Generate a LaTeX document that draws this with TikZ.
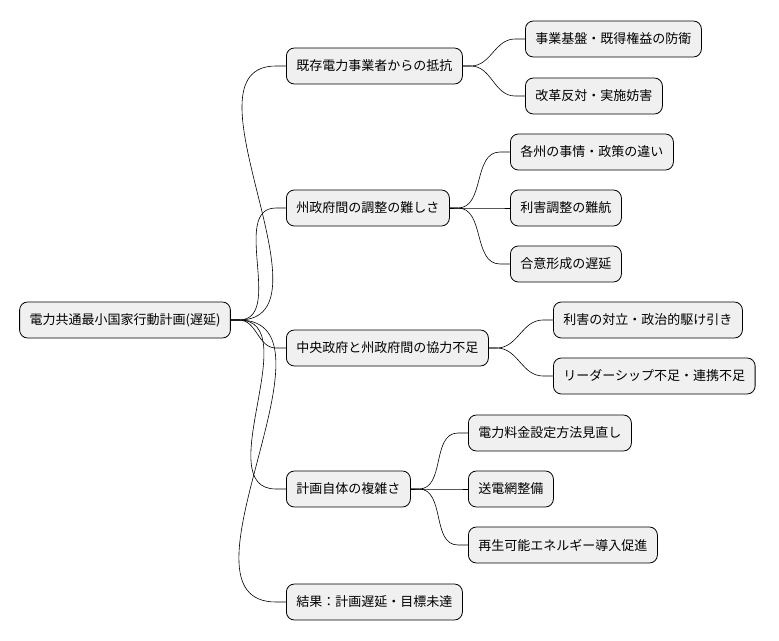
\documentclass[tikz,border=0pt]{standalone}
\usepackage{fontspec}
\setmainfont{Noto Sans CJK JP}
\begin{document}
\begin{tikzpicture}[x=1pt,y=-1pt,
  n/.style={draw=black,fill=gray!12,rounded corners=8pt,minimum height=36pt,inner xsep=10pt,font=\fontsize{13}{15}\selectfont,line width=0.8pt},
  c/.style={draw=black,line width=0.6pt}]
\useasboundingbox (0,0) rectangle (779,640);
\node[n] (r) at (125,320) {電力共通最小国家行動計画(遅延)};
\node[n,anchor=west] (a) at (286,66) {既存電力事業者からの抵抗};
\node[n,anchor=west] (b) at (286,208) {州政府間の調整の難しさ};
\node[n,anchor=west] (c) at (286,348) {中央政府と州政府間の協力不足};
\node[n,anchor=west] (d) at (286,489) {計画自体の複雑さ};
\node[n,anchor=west] (e) at (286,602) {結果：計画遅延・目標未達};
\node[n,anchor=west] (a1) at (525,39) {事業基盤・既得権益の防衛};
\node[n,anchor=west] (a2) at (525,96) {改革反対・実施妨害};
\node[n,anchor=west] (b1) at (510,152) {各州の事情・政策の違い};
\node[n,anchor=west] (b2) at (510,208) {利害調整の難航};
\node[n,anchor=west] (b3) at (510,264) {合意形成の遅延};
\node[n,anchor=west] (c1) at (553,320) {利害の対立・政治的駆け引き};
\node[n,anchor=west] (c2) at (553,376) {リーダーシップ不足・連携不足};
\node[n,anchor=west] (d1) at (468,433) {電力料金設定方法見直し};
\node[n,anchor=west] (d2) at (468,489) {送電網整備};
\node[n,anchor=west] (d3) at (468,545) {再生可能エネルギー導入促進};
\foreach \p/\ch in {r/a,r/b,r/c,r/d,r/e,a/a1,a/a2,b/b1,b/b2,b/b3,c/c1,c/c2,d/d1,d/d2,d/d3}{
  \draw[c] (\p.east) -- ++(8,0) to[out=0,in=180] ([xshift=-10pt]\ch.west) -- (\ch.west);
}
\end{tikzpicture}
\end{document}
